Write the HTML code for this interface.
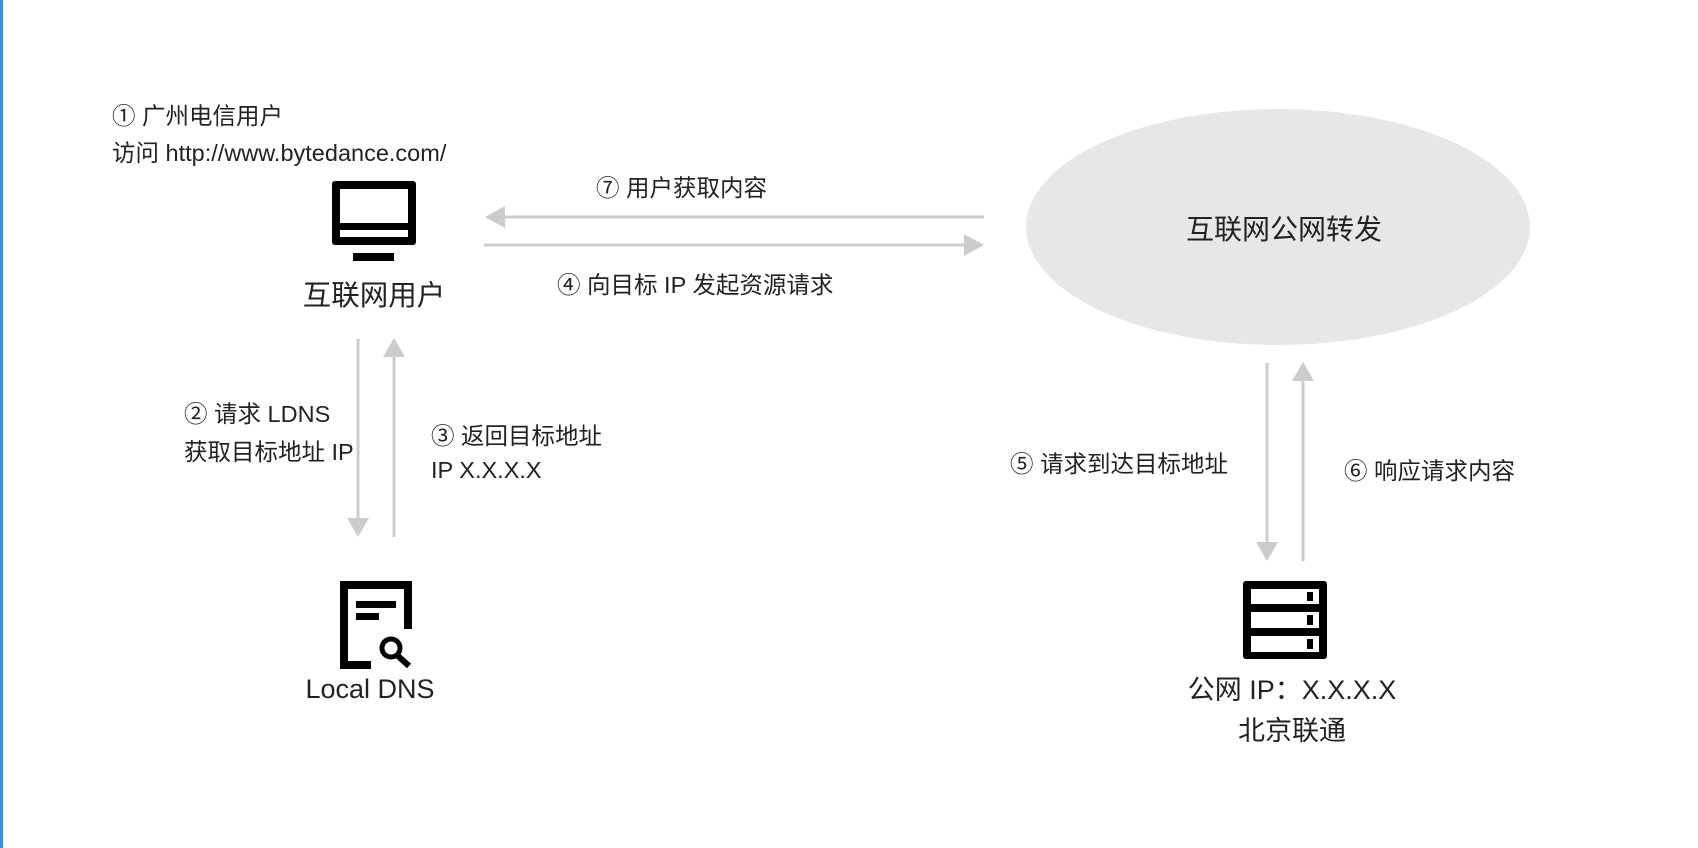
<!DOCTYPE html>
<html><head><meta charset="utf-8"><style>
html,body{margin:0;padding:0;background:#fff;}
svg{display:block;}
text{font-family:"Liberation Sans","Noto Sans CJK SC",sans-serif;fill:#222;}
</style></head><body>
<svg width="1698" height="848" viewBox="0 0 1698 848" xmlns="http://www.w3.org/2000/svg">
<rect x="0" y="0" width="1698" height="848" fill="#fff"/>
<rect x="0" y="0" width="3" height="848" fill="#3a8ee6"/>

<text x="112" y="124" font-size="23.5">① 广州电信用户</text>
<text x="112" y="161" font-size="23.5">访问 http://www.bytedance.com/</text>

<rect x="332" y="181" width="84" height="64" rx="3" fill="#000"/>
<rect x="340" y="189" width="68" height="34" fill="#fff"/>
<rect x="340" y="230" width="68" height="7" fill="#fff"/>
<rect x="353" y="253" width="41" height="8" fill="#000"/>
<text x="374" y="305" font-size="28.5" text-anchor="middle">互联网用户</text>

<line x1="503" y1="217" x2="984" y2="217" stroke="#ccc" stroke-width="3"/>
<polygon points="485,217 505,206 505,228" fill="#ccc"/>
<line x1="484" y1="245" x2="966" y2="245" stroke="#ccc" stroke-width="3"/>
<polygon points="984,245 964,234 964,256" fill="#ccc"/>
<text x="596" y="196" font-size="23.5">⑦ 用户获取内容</text>
<text x="557" y="293" font-size="23.5">④ 向目标 IP 发起资源请求</text>

<ellipse cx="1278" cy="227" rx="252" ry="118" fill="#e7e7e7"/>
<text x="1284" y="239" font-size="28" text-anchor="middle">互联网公网转发</text>

<line x1="358" y1="339" x2="358" y2="520" stroke="#ccc" stroke-width="3"/>
<polygon points="358,537 347,518 369,518" fill="#ccc"/>
<line x1="394" y1="355" x2="394" y2="537" stroke="#ccc" stroke-width="3"/>
<polygon points="394,338 383,357 405,357" fill="#ccc"/>
<text x="184" y="422" font-size="23.5">② 请求 LDNS</text>
<text x="184" y="460" font-size="23.5">获取目标地址 IP</text>
<text x="431" y="444" font-size="23.5">③ 返回目标地址</text>
<text x="431" y="478" font-size="23.5">IP X.X.X.X</text>

<path d="M408 629 V585 H344 V665 H371" fill="none" stroke="#000" stroke-width="8"/>
<rect x="356" y="601" width="40" height="7" fill="#000"/>
<rect x="356" y="613" width="23" height="7" fill="#000"/>
<circle cx="391" cy="648" r="9" fill="none" stroke="#000" stroke-width="5"/>
<line x1="397" y1="655" x2="409" y2="666" stroke="#000" stroke-width="6"/>
<text x="370" y="698" font-size="27" text-anchor="middle">Local DNS</text>

<line x1="1267" y1="363" x2="1267" y2="544" stroke="#ccc" stroke-width="3"/>
<polygon points="1267,561 1256,542 1278,542" fill="#ccc"/>
<line x1="1303" y1="379" x2="1303" y2="561" stroke="#ccc" stroke-width="3"/>
<polygon points="1303,362 1292,381 1314,381" fill="#ccc"/>
<text x="1010" y="472" font-size="23.5">⑤ 请求到达目标地址</text>
<text x="1344" y="479" font-size="23.5">⑥ 响应请求内容</text>

<rect x="1243" y="581" width="84" height="78" rx="3" fill="#000"/>
<rect x="1251" y="589" width="68" height="15" fill="#fff"/>
<rect x="1251" y="612" width="68" height="16" fill="#fff"/>
<rect x="1251" y="636" width="68" height="16" fill="#fff"/>
<rect x="1307" y="592" width="6" height="9" fill="#000"/>
<rect x="1307" y="615" width="6" height="10" fill="#000"/>
<rect x="1307" y="639" width="6" height="10" fill="#000"/>
<text x="1292" y="699" font-size="27" text-anchor="middle">公网 IP：X.X.X.X</text>
<text x="1292" y="740" font-size="27" text-anchor="middle">北京联通</text>
</svg>
</body></html>
